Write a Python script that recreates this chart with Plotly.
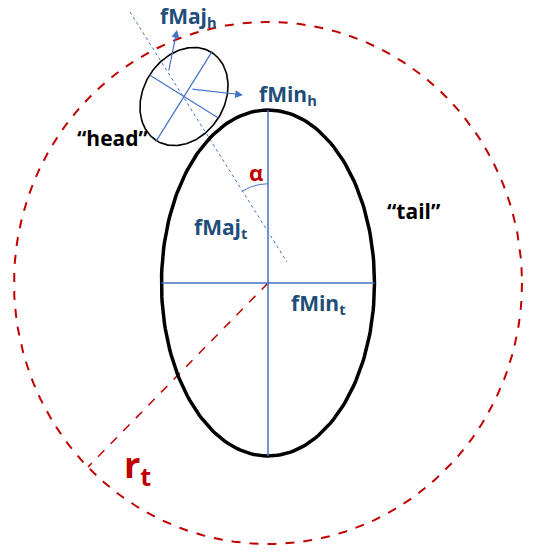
import numpy as np
import plotly.graph_objects as go

# geometry of the sketch (pixel units, y grows downward)
tail_center = [268, 283]
tail_axes = [106.5, 173]          # half width, half height
head_center = [184, 96.5]
head_axes = [52, 40.5]            # half major, half minor
head_tilt = 32                    # degrees, major axis vs vertical
circle_radii = [254, 261]
radius_end = [88, 467]
dotted_ends_x = [130, 287]
dotted_ends_y = [12, 262]
alpha_radius = 48
maj_arrow = [[168.5, 72], [177, 30]]
min_arrow = [[191, 89], [243, 95]]

labels = ["fMaj<sub>h</sub>", "fMin<sub>h</sub>", "fMaj<sub>t</sub>", "fMin<sub>t</sub>"]
label_x = [188, 288, 220, 318]
label_y = [17, 95, 228, 304]

BLUE = "#4472C4"
DARKBLUE = "#1F4E79"
RED = "#C00000"
FONT = "Open Sans"
W, H = 537, 552

fig = go.Figure()

def ellipse(cx, cy, a, b, rot=0, n=200):
    t = np.linspace(0, 2 * np.pi, n)
    x = a * np.cos(t)
    y = b * np.sin(t)
    r = np.radians(rot)
    return cx + x * np.cos(r) - y * np.sin(r), cy + x * np.sin(r) + y * np.cos(r)

def line(x, y, color, width, dash="solid"):
    fig.add_trace(go.Scatter(x=x, y=y, mode="lines", hoverinfo="skip",
                             line=dict(color=color, width=width, dash=dash)))

# big dashed circle
x, y = ellipse(tail_center[0], tail_center[1], circle_radii[0], circle_radii[1])
line(x, y, RED, 2, "dash")

# radius
line([tail_center[0], radius_end[0]], [tail_center[1], radius_end[1]], RED, 1.5, "dash")

# dotted direction line
line(dotted_ends_x, dotted_ends_y, BLUE, 1, "dot")

# tail ellipse and its axes
x, y = ellipse(tail_center[0], tail_center[1], tail_axes[0], tail_axes[1])
line(x, y, "black", 3.5)
line([tail_center[0]] * 2, [tail_center[1] - tail_axes[1], tail_center[1] + tail_axes[1]], BLUE, 1.5)
line([tail_center[0] - tail_axes[0], tail_center[0] + tail_axes[0]], [tail_center[1]] * 2, BLUE, 1.5)

# head ellipse: major axis along the dotted line
rot = 90 + head_tilt  # major axis angle in screen coords
x, y = ellipse(head_center[0], head_center[1], head_axes[0], head_axes[1], rot)
line(x, y, "black", 1.6)
r = np.radians(rot)
ux, uy = np.cos(r), np.sin(r)
line([head_center[0] - head_axes[0] * ux, head_center[0] + head_axes[0] * ux],
     [head_center[1] - head_axes[0] * uy, head_center[1] + head_axes[0] * uy], BLUE, 1.2)
line([head_center[0] + head_axes[1] * uy, head_center[0] - head_axes[1] * uy],
     [head_center[1] - head_axes[1] * ux, head_center[1] + head_axes[1] * ux], BLUE, 1.2)

# alpha arc where dotted line meets the vertical axis
slope = (dotted_ends_x[1] - dotted_ends_x[0]) / (dotted_ends_y[1] - dotted_ends_y[0])
cy = dotted_ends_y[0] + (tail_center[0] - dotted_ends_x[0]) / slope
ang = np.linspace(-np.pi / 2, -np.pi / 2 - np.arctan(slope), 40)
line(tail_center[0] + alpha_radius * np.cos(ang), cy + alpha_radius * np.sin(ang), BLUE, 1)

# arrows
for (x0, y0), (x1, y1) in [maj_arrow, min_arrow]:
    fig.add_annotation(x=x1, y=y1, ax=x0, ay=y0, xref="x", yref="y", axref="x", ayref="y",
                       text="", showarrow=True, arrowhead=2, arrowsize=1.3,
                       arrowwidth=1.2, arrowcolor=BLUE)

for t, lx, ly in zip(labels, label_x, label_y):
    fig.add_annotation(x=lx, y=ly, text="<b>" + t + "</b>", showarrow=False,
                       font=dict(family=FONT, size=21, color=DARKBLUE))

fig.add_annotation(x=256, y=172, text="<b>α</b>", showarrow=False,
                   font=dict(family=FONT, size=22, color=RED))
fig.add_annotation(x=113, y=138, text="<b>“head”</b>", showarrow=False,
                   font=dict(family=FONT, size=21, color="black"))
fig.add_annotation(x=414, y=211, text="<b>“tail”</b>", showarrow=False,
                   font=dict(family=FONT, size=21, color="black"))
fig.add_annotation(x=137, y=466, text="<b>r<sub>t</sub></b>", showarrow=False,
                   font=dict(family=FONT, size=36, color=RED))

fig.update_layout(
    width=W, height=H,
    margin=dict(l=0, r=0, t=0, b=0),
    paper_bgcolor="white", plot_bgcolor="white",
    showlegend=False,
    xaxis=dict(range=[0, W], visible=False, fixedrange=True),
    yaxis=dict(range=[H, 0], visible=False, fixedrange=True),
)

# drop the default 8px body margin so the figure fills the window
fig.write_html("out.html", config={"displayModeBar": False},
               post_script="document.body.style.margin='0';document.body.style.overflow='hidden';")
